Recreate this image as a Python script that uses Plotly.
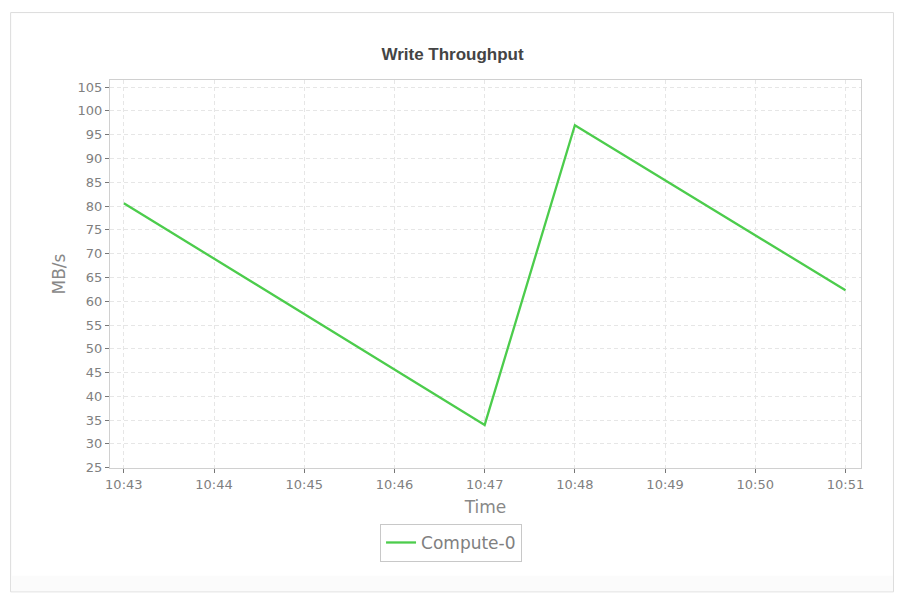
import plotly.graph_objects as go

times = ["2024-01-01 10:43", "2024-01-01 10:47", "2024-01-01 10:48", "2024-01-01 10:51"]
compute0 = [80.6, 34.0, 97.0, 62.3]
series_name = "Compute-0"
tick_times = ["2024-01-01 10:%02d" % m for m in range(43, 52)]
tick_labels = ["10:%02d" % m for m in range(43, 52)]
y_ticks = list(range(25, 110, 5))

# page body has an 8px margin; design in screen coordinates and convert
OFF = 8
W, H = 910 - OFF, 604 - OFF
L, R, T, B = 109.5, 861.5, 79.5, 468  # screen coords of plot area

def px(x):
    return (x - L) / (R - L)

def py(y):
    return (B - y) / (B - T)

def cy(y):
    return 1 - (y - OFF) / H

fig = go.Figure()
fig.add_trace(go.Scatter(
    x=times, y=compute0, mode="lines", name=series_name,
    line=dict(color="#4ccc4c", width=2.3),
))

fig.update_layout(
    width=W, height=H,
    margin=dict(l=L - OFF, r=910 - R, t=T - OFF, b=604 - B),
    paper_bgcolor="white", plot_bgcolor="white",
    font=dict(family="DejaVu Sans", color="#808080"),
    title=dict(text="<b>Write Throughput</b>", x=px(452.5), xref="paper", xanchor="center",
               y=cy(54.5), yref="container", yanchor="middle",
               font=dict(family="Liberation Sans", size=17, color="#444")),
    showlegend=True,
    legend=dict(orientation="h", x=px(451), xanchor="center", xref="paper",
                y=py(524), yanchor="top",
                bordercolor="#c8c8c8", borderwidth=1,
                font=dict(family="DejaVu Sans", size=17, color="#808080"),
                itemwidth=30),
    shapes=[
        dict(type="rect", xref="paper", yref="paper", x0=px(10), x1=px(894),
             y0=py(592), y1=py(12), line=dict(color="#dcdcdc", width=1),
             fillcolor="rgba(0,0,0,0)", layer="below"),
        dict(type="rect", xref="paper", yref="paper", x0=px(10.5), x1=px(893.5),
             y0=py(591.5), y1=py(576), line=dict(width=0),
             fillcolor="#fbfbfb", layer="below"),
    ],
)

fig.update_xaxes(
    type="date", range=["2024-01-01 10:42:50.8", "2024-01-01 10:51:10.3"],
    tickmode="array", tickvals=tick_times, ticktext=tick_labels,
    tickfont=dict(size=13, color="#808080"),
    ticks="outside", ticklen=4, tickcolor="#777",
    showline=True, linecolor="#d0d0d0", mirror=True,
    showgrid=True, gridcolor="#e6e6e6", griddash="4px,3px", gridwidth=1,
    zeroline=False,
    title=dict(text="Time", font=dict(size=17, color="#888"), standoff=10),
)
fig.update_yaxes(
    range=[24.94, 106.5],
    tickmode="array", tickvals=y_ticks,
    tickfont=dict(size=13, color="#808080"),
    ticks="outside", ticklen=4, tickcolor="#777",
    showline=True, linecolor="#d0d0d0", mirror=True,
    showgrid=True, gridcolor="#e6e6e6", griddash="4px,3px", gridwidth=1,
    zeroline=False,
    title=dict(text="MB/s", font=dict(size=17, color="#888"), standoff=7),
)

fig.write_html("out.html")
